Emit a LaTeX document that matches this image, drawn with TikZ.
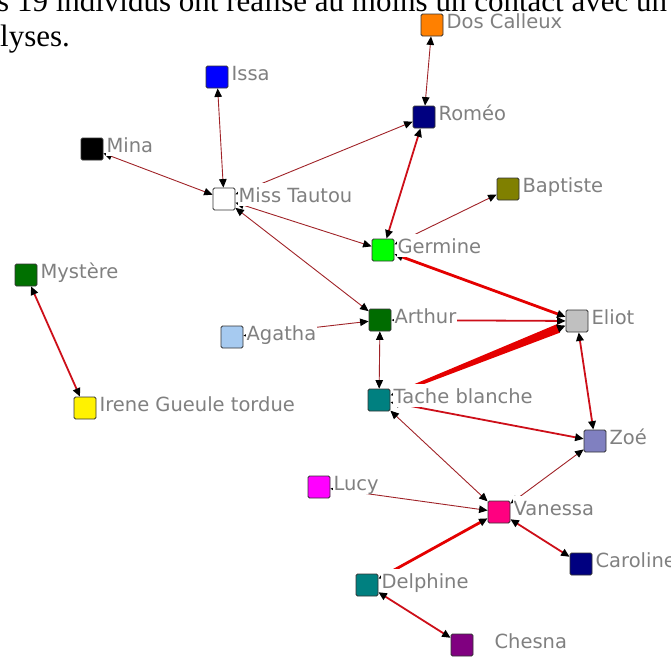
\documentclass[tikz,border=0pt]{standalone}
\usepackage{fontspec}
\setmainfont{Liberation Serif}
\setsansfont{DejaVu Sans}
\usetikzlibrary{arrows.meta, calc}

\definecolor{labgray}{HTML}{808080}
\definecolor{tiethin}{RGB}{160,35,40}
\definecolor{tiemid}{RGB}{205,15,25}
\definecolor{tiethick}{RGB}{228,0,0}
\definecolor{cdos}{HTML}{FF8000}
\definecolor{cissa}{HTML}{0000FF}
\definecolor{cromeo}{HTML}{000080}
\definecolor{cbaptiste}{HTML}{808000}
\definecolor{cgermine}{HTML}{00FF00}
\definecolor{cmystere}{HTML}{007000}
\definecolor{carthur}{HTML}{006C00}
\definecolor{cagatha}{HTML}{A6CAF0}
\definecolor{celiot}{HTML}{C0C0C0}
\definecolor{cteal}{HTML}{008080}
\definecolor{czoe}{HTML}{8080C0}
\definecolor{clucy}{HTML}{FF00FF}
\definecolor{cvanessa}{HTML}{FF0080}
\definecolor{ccaroline}{HTML}{000080}
\definecolor{cchesna}{HTML}{800080}

\begin{document}
\begin{tikzpicture}[x=1pt, y=-1pt,
  person/.style={draw=black!80, line width=0.8pt, rounded corners=1.5pt,
                 minimum size=22pt, inner sep=0pt},
  lab/.style={fill=white, text=labgray, anchor=base west,
              font=\sffamily\fontsize{19.5}{20}\selectfont,
              inner xsep=1pt, inner ysep=1.5pt, text height=18pt, text depth=2pt},
  tie/.style={draw=tiethin, line width=0.9pt,
              {Triangle[length=8.5pt,width=7.5pt,color=black]}-{Triangle[length=8.5pt,width=7.5pt,color=black]}},
  tiemedium/.style={tie, draw=tiemid, line width=1.8pt},
  tiestrong/.style={tie, draw=tiethick, line width=2.8pt}]
  \useasboundingbox (0,0) rectangle (671,657);
  \clip (0,0) rectangle (671,657);

  % --- Individuals ---
  \foreach \name/\x/\y/\col in {dos/432/25/cdos, issa/217/77/cissa, romeo/424/117/cromeo,
      mina/92/149/black, miss/224/199/white, baptiste/508/189/cbaptiste,
      germine/383/250/cgermine, mystere/26/275/cmystere, arthur/380/320/carthur,
      agatha/232/337/cagatha, eliot/577/321/celiot, tache/379/400/cteal,
      irene/85/408/yellow, zoe/595/441/czoe, lucy/319/487/clucy,
      vanessa/499/512/cvanessa, caroline/581/564/ccaroline,
      delphine/367/585/cteal, chesna/462/645/cchesna}
    \node[person, fill=\col] (\name) at (\x,\y) {};

  % --- Contacts ---
  \foreach \a/\b in {dos/romeo, issa/miss, mina/miss, miss/romeo, miss/germine,
      miss/arthur, germine/baptiste, agatha/arthur, arthur/tache,
      tache/vanessa, lucy/vanessa, vanessa/zoe}
    \draw[tie] (\a) -- (\b);
  \foreach \a/\b in {romeo/germine, mystere/irene, arthur/eliot, eliot/zoe,
      tache/zoe, vanessa/caroline, delphine/chesna}
    \draw[tiemedium] (\a) -- (\b);
  \foreach \a/\b in {germine/eliot, delphine/vanessa}
    \draw[tiestrong] (\a) -- (\b);

  % --- Strongest contact: widening band ---
  \coordinate (bandEnd) at ($(eliot)!20pt!(tache)$);
  \coordinate (bandStart) at ($(tache)!30pt!(eliot)$);
  \fill[tiethick] ($(bandEnd)!4.5pt!90:(tache)$) -- ($(bandEnd)!4.5pt!-90:(tache)$)
    -- ($(bandStart)!1.5pt!90:(eliot)$) -- ($(bandStart)!1.5pt!-90:(eliot)$) -- cycle;
  \draw[tie, draw=tiethick, line width=2pt] (tache) -- (eliot);

  % --- Names ---
  \foreach \name/\txt/\dx in {dos/Dos Calleux/2, issa/Issa/2, romeo/Roméo/2,
      mina/Mina/2, miss/Miss Tautou/2, baptiste/Baptiste/2, germine/Germine/2,
      mystere/Mystère/2, arthur/Arthur/2, agatha/Agatha/2, eliot/Eliot/2,
      tache/Tache blanche/2, irene/Irene Gueule tordue/2, zoe/Zoé/2,
      lucy/Lucy/2, vanessa/Vanessa/2, caroline/Caroline/2,
      delphine/Delphine/2, chesna/Chesna/20}
    \node[lab] (\name-lab) at ([xshift=\dx pt, yshift=-3pt]\name.east) {\txt};

  % --- Text of the page around the graph ---
  \node[anchor=base west, inner sep=0pt, font=\fontsize{31}{32}\selectfont]
    (introA) at (-3,11) {s 19 individus ont réalisé au moins un contact avec un};
  \node[anchor=base west, inner sep=0pt, font=\fontsize{31}{32}\selectfont]
    (introB) at (0,46) {lyses.};
\end{tikzpicture}
\end{document}
